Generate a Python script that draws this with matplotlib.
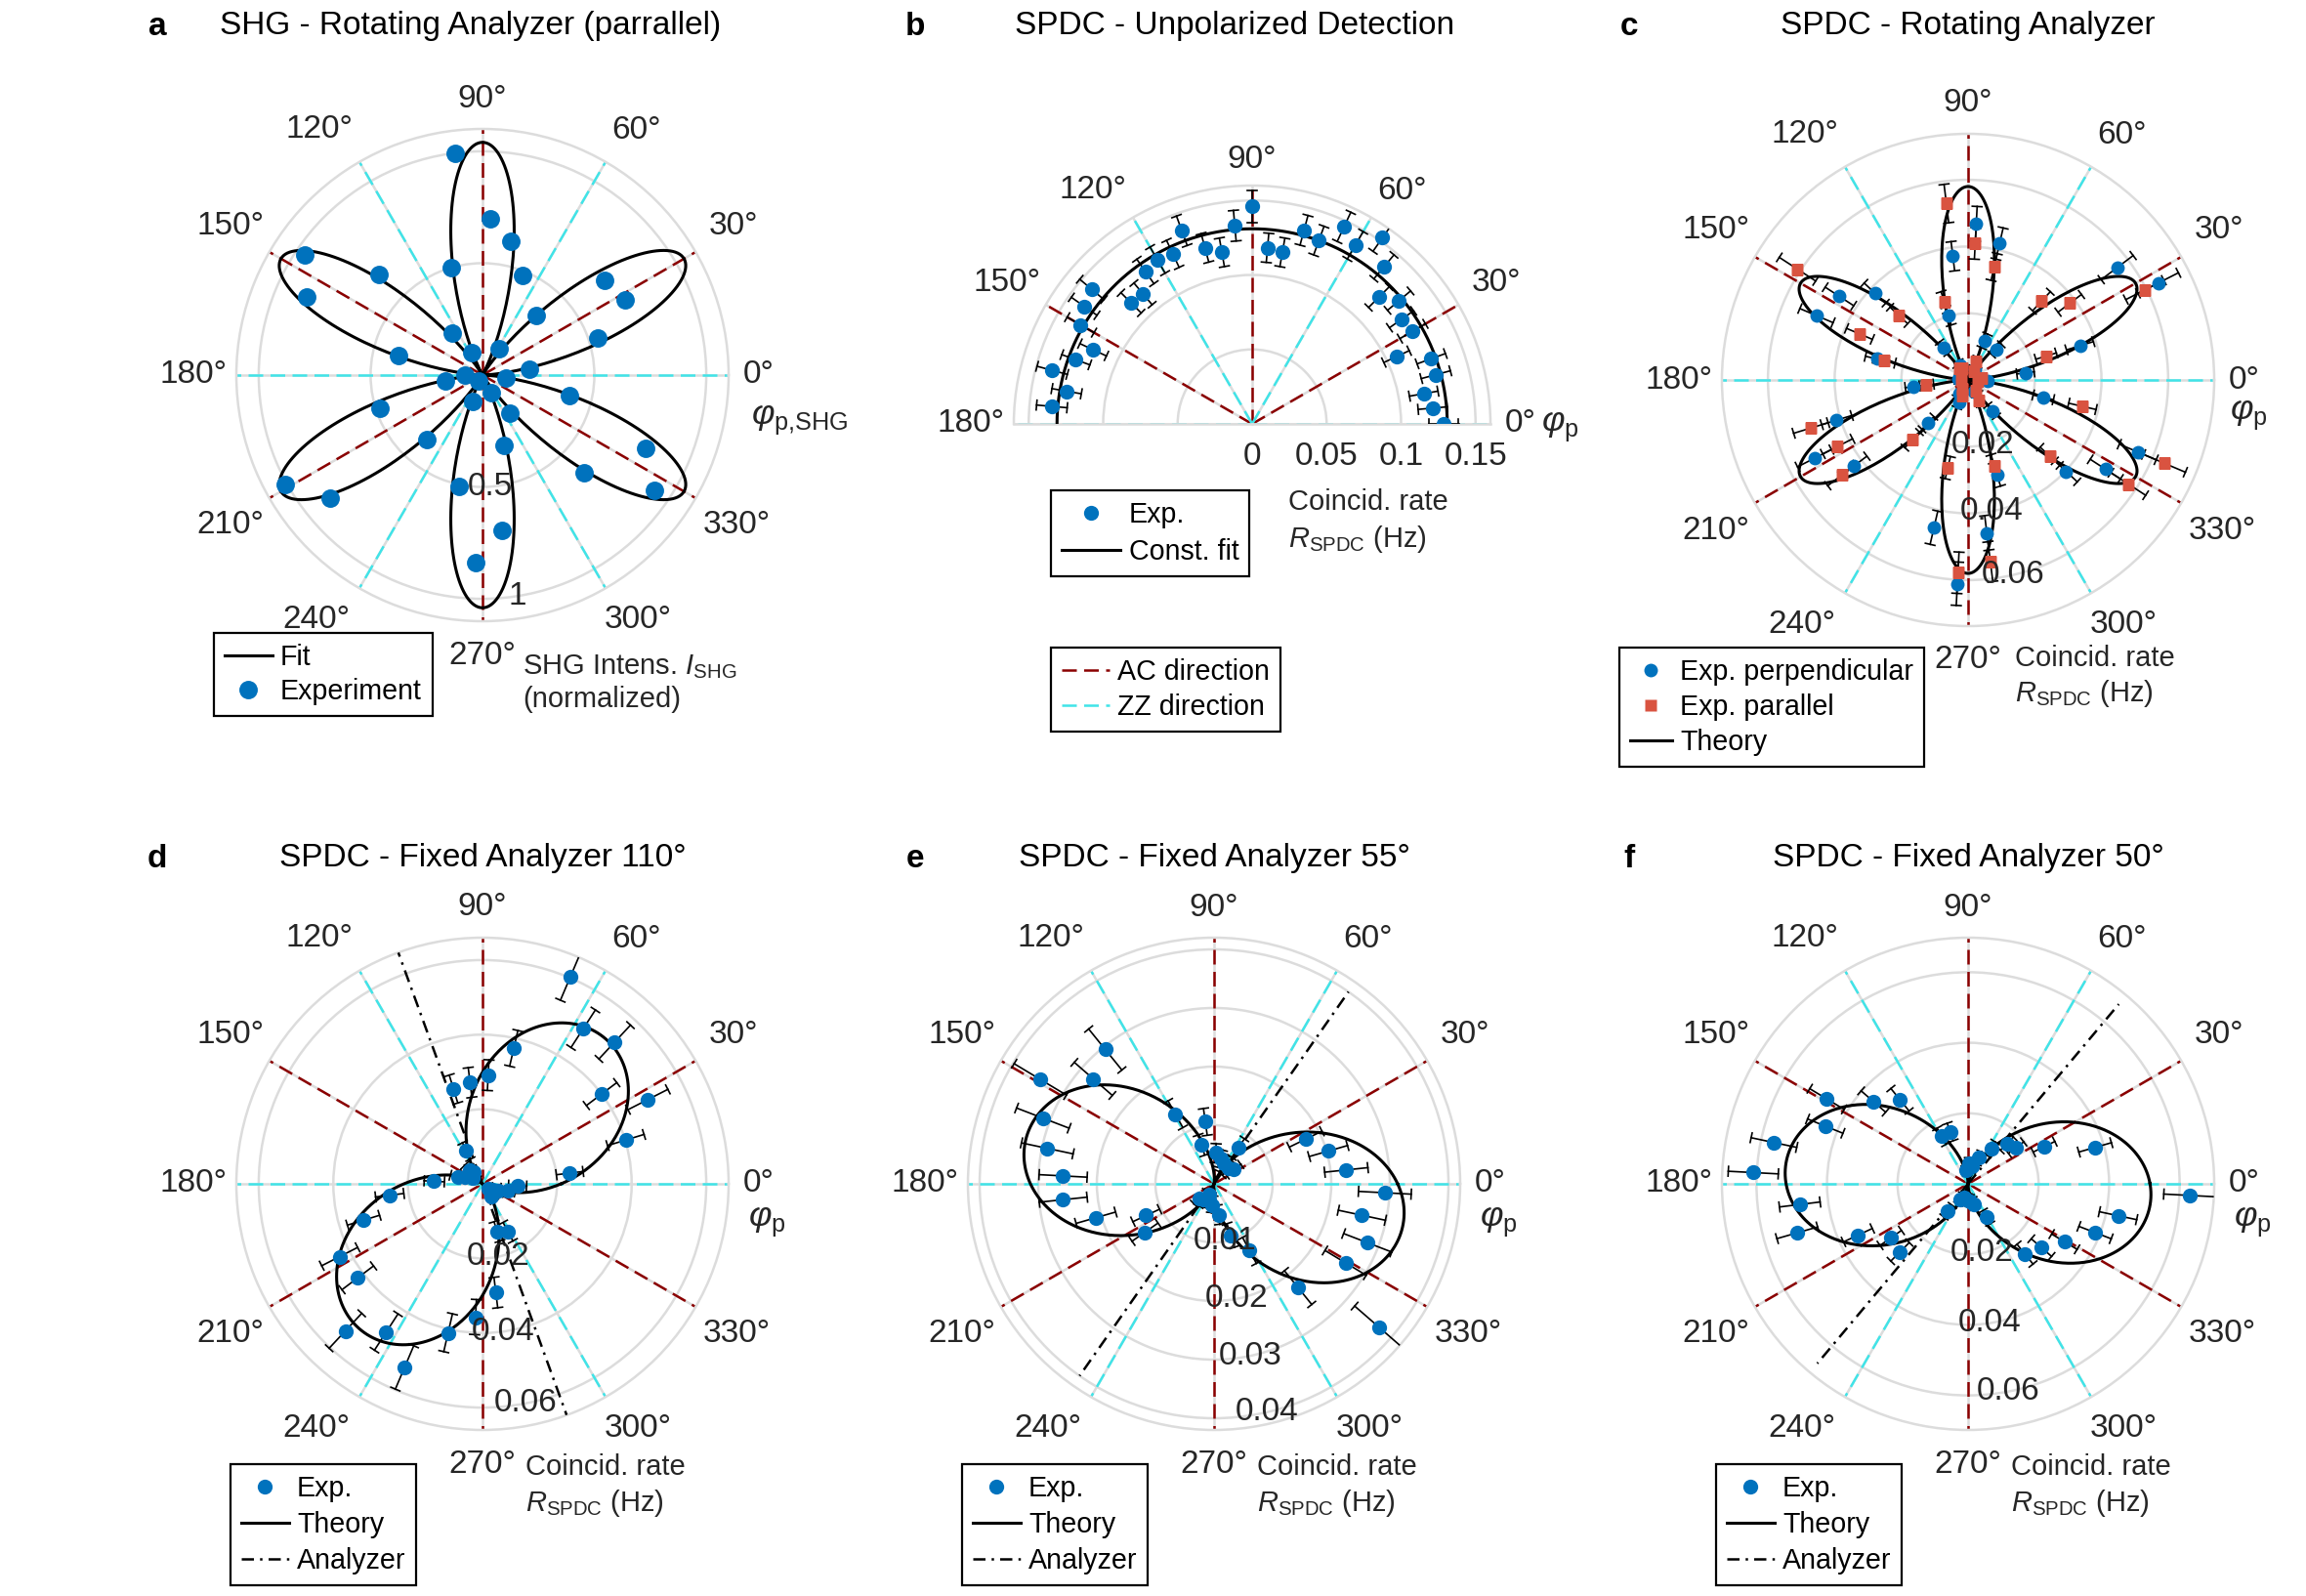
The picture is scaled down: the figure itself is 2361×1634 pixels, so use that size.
import numpy as np
import matplotlib
matplotlib.use("Agg")
import matplotlib.pyplot as plt
from matplotlib.lines import Line2D
from matplotlib.transforms import ScaledTranslation

# ---------------------------------------------------------------- data
# a: SHG, rotating analyzer (parallel), normalized intensity
a_theta = [7, 18, 28, 38, 48, 58, 68, 78, 87, 97, 106, 116, 126, 136, 146, 156, 167, 180,
           189, 198, 209, 219, 229, 239, 249, 258, 268, 277, 287, 295, 306, 316, 326, 336, 347, 354]
a_int = [0.21, 0.54, 0.72, 0.69, 0.36, 0.14, 0.48, 0.61, 0.70, 1.00, 0.50, 0.11, 0.23, 0.645,
         0.96, 0.86, 0.384, 0.08, 0.17, 0.48, 1.01, 0.876, 0.38, 0.03, 0.125, 0.51, 0.84, 0.70,
         0.33, 0.088, 0.21, 0.63, 0.925, 0.80, 0.40, 0.106]
a_fit_amp = 1.04

# b: SPDC, unpolarized detection
b_theta = [0, 5, 10, 15, 20, 25, 30, 35, 40, 45, 50, 55, 60, 65, 70, 75, 80, 85,
           90, 95, 100, 105, 110, 115, 120, 125, 130, 135, 140, 145, 150, 155, 160, 165, 170, 175]
b_rate = [0.1287, 0.1217, 0.117, 0.1277, 0.128, 0.107, 0.1245, 0.1225, 0.1288, 0.1204, 0.1377,
          0.1525, 0.1385, 0.146, 0.131, 0.1346, 0.117, 0.1187, 0.146, 0.1336, 0.117, 0.1224,
          0.138, 0.126, 0.127, 0.125, 0.114, 0.115, 0.1405, 0.1377, 0.133, 0.1178, 0.126,
          0.139, 0.1265, 0.135]
b_err = [0.010, 0.0098, 0.0097, 0.0101, 0.0101, 0.0094, 0.0099, 0.0099, 0.0101, 0.0098, 0.0105,
         0.0110, 0.0106, 0.0108, 0.0102, 0.0103, 0.0097, 0.0098, 0.0108, 0.0103, 0.0097, 0.0099,
         0.0105, 0.0100, 0.0101, 0.0100, 0.0095, 0.0096, 0.0106, 0.0105, 0.0104, 0.0098, 0.0100,
         0.0105, 0.0100, 0.0103]
b_const = 0.131

# c: SPDC, rotating analyzer
c_theta = [7, 17, 27, 37, 47, 57, 67, 77, 87, 97, 107, 117, 127, 137, 147, 157, 167, 177,
           187, 197, 207, 217, 227, 237, 248, 257, 267, 277, 287, 297, 308, 317, 327, 337, 347, 357]
c_perp = [0.0174, 0.0351, 0.064, 0.056, 0.0126, 0.004, 0.0128, 0.042, 0.0469, 0.0374, 0.0201,
          0.005, 0.0122, 0.0382, 0.046, 0.0494, 0.0281, 0.003, 0.0165, 0.0412, 0.0517, 0.0429,
          0.0177, 0.005, 0.0074, 0.0455, 0.0612, 0.0462, 0.0296, 0.0038, 0.0118, 0.0402, 0.0491,
          0.0553, 0.0232, 0.0059]
c_perp_err = [0.0026, 0.0042, 0.0068, 0.006, 0.0021, 0.0014, 0.0022, 0.0048, 0.0052, 0.0044,
              0.0028, 0.0015, 0.0021, 0.0044, 0.0051, 0.0054, 0.0035, 0.0013, 0.0025, 0.0047,
              0.0057, 0.0049, 0.0026, 0.0015, 0.0017, 0.0051, 0.0065, 0.0052, 0.0037, 0.0013,
              0.0021, 0.0046, 0.0054, 0.006, 0.0031, 0.0015]
c_par = [0.004, 0.0245, 0.0595, 0.0382, 0.0323, 0.003, 0.006, 0.0348, 0.041, 0.0533, 0.0245,
         0.004, 0.0043, 0.0284, 0.061, 0.0354, 0.0258, 0.002, 0.0126, 0.0493, 0.0439, 0.0474,
         0.0246, 0.003, 0.005, 0.027, 0.0579, 0.0549, 0.0269, 0.007, 0.004, 0.0336, 0.0573,
         0.064, 0.0352, 0.003]
c_par_err = [0.0014, 0.0032, 0.0064, 0.0044, 0.0039, 0.0013, 0.0015, 0.0041, 0.0047, 0.0058,
             0.0032, 0.0014, 0.0014, 0.0036, 0.0065, 0.0042, 0.0033, 0.0012, 0.0021, 0.0054,
             0.005, 0.0053, 0.0032, 0.0013, 0.0015, 0.0034, 0.0062, 0.006, 0.0034, 0.0016,
             0.0014, 0.004, 0.0062, 0.0068, 0.0042, 0.0013]
c_theory_amp = 0.058

# d: SPDC, fixed analyzer 110 deg
d_theta = [7, 17, 27, 37, 47, 57, 67, 77, 87, 97, 107, 116, 127, 134, 147, 157, 165, 177,
           187, 197, 207, 217, 227, 237, 247, 257, 267, 277, 287, 298, 304, 317, 327, 338, 346, 357]
d_rate = [0.0236, 0.0402, 0.0498, 0.040, 0.052, 0.0496, 0.0604, 0.0373, 0.0292, 0.0274, 0.0266,
          0.0099, 0.004, 0.005, 0.003, 0.005, 0.0069, 0.013, 0.0251, 0.0334, 0.043, 0.0419,
          0.0539, 0.0474, 0.0535, 0.041, 0.0358, 0.0294, 0.0134, 0.0146, 0.004, 0.002, 0.003,
          0.0046, 0.0071, 0.0095]
d_err = [0.0036, 0.0051, 0.006, 0.0051, 0.0062, 0.006, 0.0069, 0.0049, 0.0041, 0.004, 0.0039,
         0.0024, 0.0019, 0.002, 0.0018, 0.002, 0.0021, 0.0027, 0.0038, 0.0045, 0.0054, 0.0053,
         0.0064, 0.0058, 0.0063, 0.0052, 0.0047, 0.0041, 0.0027, 0.0028, 0.0019, 0.0017, 0.0018,
         0.0019, 0.0021, 0.0024]
d_theory = (0.051, 50)      # amplitude, lobe direction (deg)

# e: SPDC, fixed analyzer 55 deg
e_theta = [6, 16, 26, 36, 46, 56, 66, 76, 87, 98, 108, 119, 129, 139, 149, 159, 168, 177,
           186, 196, 205, 215, 225, 235, 245, 255, 265, 278, 288, 298, 309, 319, 329, 339, 348, 357]
e_rate = [0.0227, 0.0203, 0.0174, 0.0042, 0.0036, 0.0074, 0.0039, 0.0045, 0.0053, 0.0107, 0.0070,
          0.0136, 0.0295, 0.0273, 0.0346, 0.0313, 0.0291, 0.0258, 0.0259, 0.0210, 0.0128, 0.0144,
          0.0035, 0.0032, 0.0020, 0.0030, 0.0036, 0.0054, 0.0093, 0.0129, 0.0228, 0.0373, 0.0262,
          0.0281, 0.0258, 0.0292]
e_err = [0.0037, 0.0034, 0.0031, 0.0015, 0.0014, 0.0019, 0.0015, 0.0015, 0.0016, 0.0023, 0.0018,
         0.0026, 0.0045, 0.0043, 0.0052, 0.0048, 0.0045, 0.0041, 0.0041, 0.0035, 0.0025, 0.0027,
         0.0014, 0.0014, 0.0012, 0.0014, 0.0014, 0.0016, 0.0021, 0.0025, 0.0037, 0.0055, 0.0041,
         0.0044, 0.0041, 0.0045]
e_theory = (0.033, 167)

# f: SPDC, fixed analyzer 50 deg
f_theta = [16, 26, 37, 46, 57, 67, 77, 87, 97, 109, 119, 129, 139, 149, 158, 168, 177, 187,
           196, 205, 215, 225, 234, 244, 254, 264, 276, 286, 299, 309, 319, 329, 339, 348, 357]
f_rate = [0.0375, 0.024, 0.0171, 0.0159, 0.012, 0.0081, 0.005, 0.0059, 0.004, 0.0156, 0.0155,
          0.0307, 0.0356, 0.0467, 0.0437, 0.0563, 0.061, 0.0481, 0.0504, 0.0345, 0.0268, 0.0273,
          0.0097, 0.005, 0.004, 0.0045, 0.005, 0.006, 0.0109, 0.0257, 0.0276, 0.0319, 0.0386,
          0.0435, 0.0629]
f_err = [0.0048, 0.0034, 0.0027, 0.0026, 0.0022, 0.0018, 0.0015, 0.0016, 0.0014, 0.0026, 0.0026,
         0.0041, 0.0046, 0.0057, 0.0054, 0.0066, 0.0071, 0.0058, 0.006, 0.0045, 0.0037, 0.0037,
         0.002, 0.0015, 0.0014, 0.0015, 0.0015, 0.0016, 0.0021, 0.0036, 0.0038, 0.0042, 0.0049,
         0.0054, 0.0073]
f_theory = (0.052, 175)

analyzer_angle = {"d": 110, "e": 55, "f": 50}
analyzer_len = {"d": 0.066, "e": 0.040, "f": 0.0665}

AC_ANGLES = [30, 90, 150]
ZZ_ANGLES = [0, 60, 120]

# ---------------------------------------------------------------- style
W, H, DPI = 2361, 1634, 200
BLUE = "#0072BD"
RED = "#D95340"
AC_COLOR = "#8B0000"
ZZ_COLOR = "#40E4E8"
GRID = "#DCDCDC"
TXT = "#262626"
DASH = (0, (6, 3))
DASHDOT = (0, (5, 2.5, 1, 2.5))
# offset (px, x right / y up) from the outer ring to the centre of each theta label
THETA_LABEL_OFFSET = {0: (31, 0), 30: (39, 27), 60: (32, 32), 90: (0, 31),
                      120: (-41, 33), 150: (-40, 27), 180: (-44, 0), 210: (-40, -28),
                      240: (-44, -32), 270: (0, -35), 300: (33, -32), 330: (42, -28)}

plt.rcParams["font.family"] = ["Liberation Sans", "DejaVu Sans"]
plt.rcParams["mathtext.fontset"] = "custom"
plt.rcParams["mathtext.rm"] = "Liberation Sans"
plt.rcParams["mathtext.it"] = "Liberation Sans:italic"
plt.rcParams["mathtext.sf"] = "Liberation Sans"

fig = plt.figure(figsize=(W / DPI, H / DPI), dpi=DPI)


def fxy(x, y):
    return x / W, 1 - y / H


def ftext(x, y, s, **kw):
    kw.setdefault("fontsize", 10.5)
    kw.setdefault("color", TXT)
    fig.text(*fxy(x, y), s, **kw)


def shifted(ax, dx_px, dy_px):
    return ax.transData + ScaledTranslation(dx_px / DPI, dy_px / DPI, fig.dpi_scale_trans)


def polar_axes(cx, cy, R, rmax, rticks, half=False):
    # square box; for the half plot the semicircle sits in the middle half of it
    top = cy - 0.5 * R if half else cy
    rect = [(cx - R) / W, 1 - (top + R) / H, 2 * R / W, 2 * R / H]
    ax = fig.add_axes(rect, projection="polar")
    if half:
        ax.set_thetamin(0)
        ax.set_thetamax(180)
        angles = np.arange(0, 181, 30)
    else:
        angles = np.arange(0, 360, 30)
    ax.set_thetagrids(angles, [""] * len(angles))
    ax.set_rticks(rticks)
    ax.set_yticklabels([])
    ax.set_rlim(0, rmax)
    ax.grid(True, color=GRID, lw=0.9)
    for sp in ax.spines.values():
        sp.set_color(GRID)
        sp.set_linewidth(0.9)
    ax.tick_params(axis="both", length=0)
    for a in angles:
        dx, dy = THETA_LABEL_OFFSET[int(a)]
        if half:
            dy *= 0.85
        ax.text(np.deg2rad(a), rmax, f"{a}°", transform=shifted(ax, dx, dy),
                ha="center", va="center", fontsize=12, color=TXT)
    return ax


def sym_lines(ax, rmax, half=False):
    for angs, col in ((AC_ANGLES, AC_COLOR), (ZZ_ANGLES, ZZ_COLOR)):
        for a in angs:
            for t in (a, a + 180):
                if half and t > 180:
                    continue
                ax.plot([np.deg2rad(t)] * 2, [0, rmax], color=col, ls=DASH, lw=0.9, zorder=2)


def r_labels(ax, ticks, labels, angs):
    for t, s, a in zip(ticks, labels, angs):
        ax.text(np.deg2rad(a), t, s, ha="center", va="center", fontsize=12,
                color=TXT, zorder=6)


def errbars(ax, theta, r, err, rmax, R_px=252, cap_px=5):
    for t, v, e in zip(theta, r, err):
        tr = np.deg2rad(t)
        lo, hi = max(v - e, 0.0), v + e
        ax.plot([tr, tr], [lo, hi], color="k", lw=0.6, zorder=3)
        for rc in (lo, hi):
            if rc <= 0:
                continue
            half = min(cap_px / R_px * rmax / rc, 0.5)
            ax.plot([tr - half, tr + half], [rc, rc], color="k", lw=0.6, zorder=3)


def add_legend(handles, labels, x, y, spacing=0.32, hlen=1.7):
    leg = fig.legend(handles, labels, loc="upper left", bbox_to_anchor=fxy(x, y),
                     bbox_transform=fig.transFigure, frameon=True, fancybox=False,
                     edgecolor="k", framealpha=1, fontsize=10.3, borderaxespad=0,
                     handlelength=hlen, handletextpad=0.3, labelspacing=spacing,
                     borderpad=0.38)
    leg.get_frame().set_linewidth(0.8)
    return leg


def titles(letter, title, lx, tx, y):
    ftext(lx, y, letter, fontsize=12, fontweight="bold", color="k", ha="center", va="center")
    ftext(tx, y, title, fontsize=12, color="k", ha="center", va="center")


def phi_label(x, y, sub):
    ftext(x, y, r"$\varphi_{\mathrm{" + sub + "}}$", fontsize=13, ha="left", va="center")


def rate_label(x, y1, y2):
    ftext(x, y1, "Coincid. rate", ha="left", va="center")
    ftext(x, y2, r"$R_{\mathrm{SPDC}}$ (Hz)", ha="left", va="center")


phi = np.linspace(0, 2 * np.pi, 721)
h_exp = Line2D([], [], ls="none", marker="o", color=BLUE, ms=5.5, mec="none")
h_line = Line2D([], [], color="k", lw=1.1)
h_ana = Line2D([], [], color="k", lw=0.9, ls=DASHDOT)

# ---------------------------------------------------------------- a
rmax = 1.1
ax = polar_axes(494, 384, 252, rmax, [0.5, 1.0])
sym_lines(ax, rmax)
ax.plot(phi, a_fit_amp * np.sin(3 * phi) ** 2, color="k", lw=1.1, zorder=3)
ax.plot(np.deg2rad(a_theta), a_int, "o", color=BLUE, ms=6.8, mec="none", zorder=5)
r_labels(ax, [0.5, 1.0], ["0.5", "1"], [274, 279])
titles("a", "SHG - Rotating Analyzer (parrallel)", 161, 482, 27)
phi_label(769, 430, "p{,}SHG")
ftext(535, 683, r"SHG Intens. $I_{\mathrm{SHG}}$", ha="left", va="center")
ftext(535, 716, "(normalized)", ha="left", va="center")
add_legend([Line2D([], [], color="k", lw=1.1),
            Line2D([], [], ls="none", marker="o", color=BLUE, ms=6.8, mec="none")],
           ["Fit", "Experiment"], 219, 648, spacing=0.25)

# ---------------------------------------------------------------- b
rmax = 0.16
ax = polar_axes(1282, 434, 244, rmax, [0.05, 0.1, 0.15], half=True)
sym_lines(ax, rmax, half=True)
ax.plot(np.linspace(0, np.pi, 181), np.full(181, b_const), color="k", lw=1.1, zorder=3)
errbars(ax, b_theta, b_rate, b_err, rmax, R_px=244)
ax.plot(np.deg2rad(b_theta), b_rate, "o", color=BLUE, ms=5.5, mec="none", zorder=5)
for t, s in zip([0, 0.05, 0.1, 0.15], ["0", "0.05", "0.1", "0.15"]):
    ax.text(0, t, s, ha="center", va="center", fontsize=12, color=TXT,
            transform=shifted(ax, 0, -34))
titles("b", "SPDC - Unpolarized Detection", 937, 1264, 27)
phi_label(1578, 436, "p")
rate_label(1319, 514, 552)
add_legend([h_exp, h_line], ["Exp.", "Const. fit"], 1076, 502, spacing=0.35, hlen=2.1)
add_legend([Line2D([], [], color=AC_COLOR, lw=0.9, ls=DASH),
            Line2D([], [], color=ZZ_COLOR, lw=0.9, ls=DASH)],
           ["AC direction", "ZZ direction"], 1076, 663, spacing=0.3)

# ---------------------------------------------------------------- c
rmax = 0.0738
ax = polar_axes(2015, 389, 252, rmax, [0.02, 0.04, 0.06])
sym_lines(ax, rmax)
ax.plot(phi, c_theory_amp * np.sin(3 * phi) ** 2, color="k", lw=1.1, zorder=3)
errbars(ax, c_theta, c_perp, c_perp_err, rmax)
errbars(ax, c_theta, c_par, c_par_err, rmax)
ax.plot(np.deg2rad(c_theta), c_perp, "o", color=BLUE, ms=5, mec="none", zorder=5)
ax.plot(np.deg2rad(c_theta), c_par, "s", color=RED, ms=4.6, mec="none", zorder=5)
r_labels(ax, [0.02, 0.04, 0.06], ["0.02", "0.04", "0.06"], [283, 280, 283])
titles("c", "SPDC - Rotating Analyzer", 1668, 2015, 27)
phi_label(2283, 425, "p")
rate_label(2063, 674, 710)
add_legend([Line2D([], [], ls="none", marker="o", color=BLUE, ms=5, mec="none"),
            Line2D([], [], ls="none", marker="s", color=RED, ms=4.6, mec="none"),
            h_line],
           ["Exp. perpendicular", "Exp. parallel", "Theory"], 1658, 663,
           spacing=0.28, hlen=1.5)

# ---------------------------------------------------------------- d, e, f
panels = [
    ("d", "SPDC - Fixed Analyzer 110°", 494, 0.066, d_theta, d_rate, d_err, d_theory,
     [0.02, 0.04, 0.06], ["0.02", "0.04", "0.06"], [282, 278, 281], 161),
    ("e", "SPDC - Fixed Analyzer 55°", 1243, 0.042, e_theta, e_rate, e_err, e_theory,
     [0.01, 0.02, 0.03, 0.04], ["0.01", "0.02", "0.03", "0.04"], [281, 281, 282, 283], 937),
    ("f", "SPDC - Fixed Analyzer 50°", 2015, 0.0698, f_theta, f_rate, f_err, f_theory,
     [0.02, 0.04, 0.06], ["0.02", "0.04", "0.06"], [281, 279, 281], 1668),
]
for key, title, cx, rmax, th, rr, ee, (amp, lobe), ticks, tlabels, tangs, lx in panels:
    cy = 1212
    ax = polar_axes(cx, cy, 252, rmax, ticks)
    sym_lines(ax, rmax)
    alpha = np.deg2rad(analyzer_angle[key])
    L = analyzer_len[key]
    for t in (alpha, alpha + np.pi):
        ax.plot([t, t], [0, L], color="k", lw=0.9, ls=DASHDOT, zorder=3)
    ax.plot(phi, amp * np.cos(phi - np.deg2rad(lobe)) ** 2, color="k", lw=1.1, zorder=3)
    errbars(ax, th, rr, ee, rmax)
    ax.plot(np.deg2rad(th), rr, "o", color=BLUE, ms=5.5, mec="none", zorder=5)
    r_labels(ax, ticks, tlabels, tangs)
    titles(key, title, lx, cx, 879)
    phi_label(cx + 272, cy + 38, "p")
    rate_label(cx + 44, cy + 290, cy + 327)
    add_legend([h_exp, h_line, h_ana], ["Exp.", "Theory", "Analyzer"], cx - 258, 1499)

fig.savefig("out.png", dpi=DPI)
